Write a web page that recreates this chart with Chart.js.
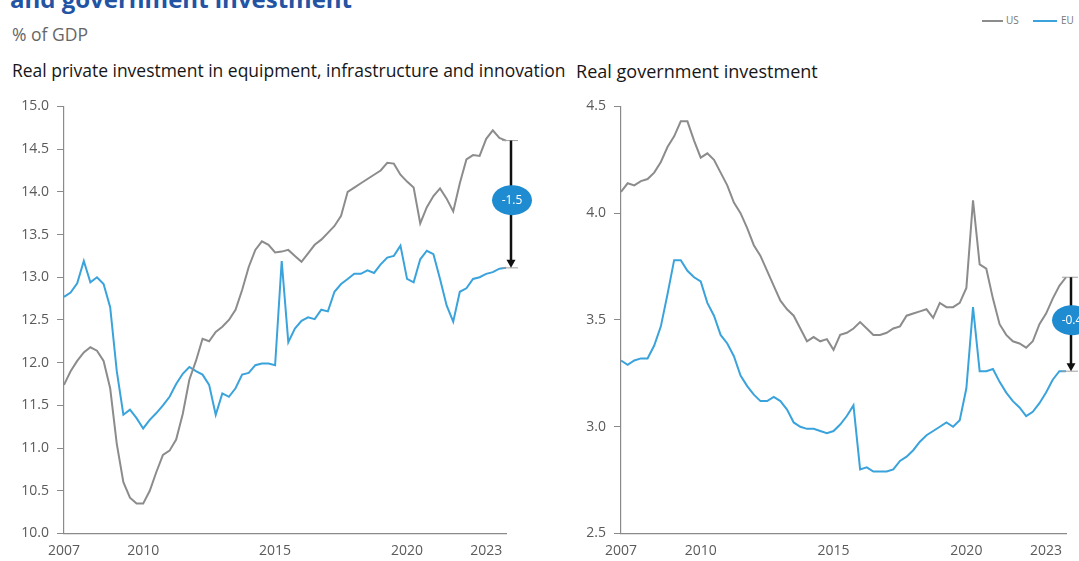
<!DOCTYPE html>
<html>
<head>
<meta charset="utf-8">
<script src="https://cdn.jsdelivr.net/npm/chart.js@4.4.1/dist/chart.umd.min.js"></script>
<style>
  body { margin: 0; width: 1079px; height: 561px; overflow: hidden; background: #fff; position: relative; font-family: "Open Sans", sans-serif; }
  .t { position: absolute; white-space: nowrap; line-height: 1; }
  #title { left: 10px; top: -13px; font-size: 22px; font-weight: 700; color: #2353a3; }
  #unit { left: 12px; top: 26px; font-size: 14px; color: #666; }
  .sub { top: 62px; font-size: 15px; color: #161616; }
  #sub1 { left: 12px; }
  #sub2 { left: 576px; }
  .leg-line { position: absolute; height: 2px; top: 20px; }
  .leg-txt { position: absolute; top: 15px; font-size: 10px; color: #777; line-height: 1; }
  .box { position: absolute; top: 90px; height: 471px; }
</style>
</head>
<body>
<div class="t" id="title" data-w="342">and government investment</div>
<div class="t" id="unit" data-w="76">% of GDP</div>
<div class="t sub" id="sub1" data-w="554">Real private investment in equipment, infrastructure and innovation</div>
<div class="t sub" id="sub2" data-w="242">Real government investment</div>

<div class="leg-line" style="left:982px;width:21px;background:#8c8c8c"></div>
<div class="leg-txt" style="left:1006px">US</div>
<div class="leg-line" style="left:1033px;width:24px;background:#3aa3dc"></div>
<div class="leg-txt" style="left:1061px">EU</div>

<div class="box" style="left:0;width:540px"><canvas id="left" width="540" height="471"></canvas></div>
<div class="box" style="left:540px;width:539px"><canvas id="right" width="539" height="471"></canvas></div>

<script>
// Quarterly data, 2007Q1 - 2023Q4
const years = [2007, 2008, 2009, 2010, 2011, 2012, 2013, 2014, 2015, 2016, 2017, 2018, 2019, 2020, 2021, 2022, 2023];
const quarters = [];
years.forEach(y => ['Q1', 'Q2', 'Q3', 'Q4'].forEach(q => quarters.push(y + q)));
const tickYears = ['2007', '2010', '2015', '2020', '2023'];

// Real private investment in equipment, infrastructure and innovation
const privateUS = [
  11.74, 11.90, 12.02, 12.12,
  12.18, 12.14, 12.02, 11.70,
  11.05, 10.60, 10.42, 10.35,
  10.35, 10.50, 10.72, 10.92,
  10.97, 11.10, 11.40, 11.80,
  12.02, 12.28, 12.25, 12.36,
  12.42, 12.50, 12.62, 12.85,
  13.12, 13.32, 13.42, 13.38,
  13.29, 13.30, 13.32, 13.25,
  13.18, 13.28, 13.38, 13.44,
  13.52, 13.60, 13.72, 14.00,
  14.05, 14.10, 14.15, 14.20,
  14.25, 14.34, 14.33, 14.20,
  14.12, 14.05, 13.63, 13.82,
  13.95, 14.04, 13.92, 13.77,
  14.10, 14.38, 14.43, 14.42,
  14.62, 14.72, 14.63, 14.60
];
const privateEU = [
  12.77, 12.82, 12.93, 13.19,
  12.94, 13.00, 12.92, 12.65,
  11.90, 11.39, 11.45, 11.35,
  11.23, 11.33, 11.41, 11.50,
  11.60, 11.75, 11.87, 11.95,
  11.90, 11.86, 11.74, 11.39,
  11.64, 11.60, 11.70, 11.86,
  11.88, 11.97, 11.99, 11.99,
  11.97, 13.19, 12.24, 12.40,
  12.49, 12.53, 12.51, 12.62,
  12.60, 12.83, 12.92, 12.98,
  13.04, 13.04, 13.08, 13.05,
  13.15, 13.23, 13.25, 13.37,
  12.98, 12.94, 13.21, 13.31,
  13.27, 12.98, 12.67, 12.48,
  12.83, 12.87, 12.98, 13.00,
  13.04, 13.06, 13.10, 13.11
];

// Real government investment
const govUS = [
  4.10, 4.14, 4.13, 4.15,
  4.16, 4.19, 4.24, 4.31,
  4.36, 4.43, 4.43, 4.34,
  4.26, 4.28, 4.25, 4.19,
  4.13, 4.05, 4.00, 3.93,
  3.85, 3.80, 3.73, 3.66,
  3.59, 3.55, 3.52, 3.46,
  3.40, 3.42, 3.40, 3.41,
  3.36, 3.43, 3.44, 3.46,
  3.49, 3.46, 3.43, 3.43,
  3.44, 3.46, 3.47, 3.52,
  3.53, 3.54, 3.55, 3.51,
  3.58, 3.56, 3.56, 3.58,
  3.65, 4.06, 3.76, 3.74,
  3.60, 3.48, 3.43, 3.40,
  3.39, 3.37, 3.40, 3.48,
  3.53, 3.60, 3.66, 3.70
];
const govEU = [
  3.31, 3.29, 3.31, 3.32,
  3.32, 3.38, 3.47, 3.62,
  3.78, 3.78, 3.73, 3.70,
  3.68, 3.58, 3.52, 3.43,
  3.39, 3.33, 3.24, 3.19,
  3.15, 3.12, 3.12, 3.14,
  3.12, 3.08, 3.02, 3.00,
  2.99, 2.99, 2.98, 2.97,
  2.98, 3.01, 3.05, 3.10,
  2.80, 2.81, 2.79, 2.79,
  2.79, 2.80, 2.84, 2.86,
  2.89, 2.93, 2.96, 2.98,
  3.00, 3.02, 3.00, 3.03,
  3.18, 3.56, 3.26, 3.26,
  3.27, 3.21, 3.16, 3.12,
  3.09, 3.05, 3.07, 3.11,
  3.16, 3.22, 3.26, 3.26
];

const US_COLOR = '#8c8c8c';
const EU_COLOR = '#3aa3dc';
const AXIS_COLOR = '#8a8a8a';
const LABEL_COLOR = '#5a5a5a';

// fit text widths to the reference
document.querySelectorAll('[data-w]').forEach(el => {
  const target = +el.dataset.w;
  const fs = parseFloat(getComputedStyle(el).fontSize);
  el.style.fontSize = (fs * target / el.getBoundingClientRect().width) + 'px';
});

// arrow + bubble showing the EU-US gap at the last quarter
const gapMarker = {
  id: 'gapMarker',
  afterDatasetsDraw(chart) {
    const { ctx, scales: { x, y } } = chart;
    const us = chart.data.datasets[0].data;
    const eu = chart.data.datasets[1].data;
    const last = us.length - 1;
    const xr = x.getPixelForValue(last);
    const ax = xr + 5;
    const yTop = y.getPixelForValue(us[last]);
    const yBot = y.getPixelForValue(eu[last]);

    ctx.save();
    ctx.strokeStyle = '#a0a0a0';
    ctx.lineWidth = 1;
    ctx.beginPath();
    ctx.moveTo(xr - 4, yTop); ctx.lineTo(ax + 7, yTop);
    ctx.moveTo(xr - 4, yBot); ctx.lineTo(ax + 7, yBot);
    ctx.stroke();

    ctx.strokeStyle = '#111';
    ctx.lineWidth = 2.5;
    ctx.beginPath();
    ctx.moveTo(ax, yTop);
    ctx.lineTo(ax, yBot - 6);
    ctx.stroke();
    ctx.fillStyle = '#111';
    ctx.beginPath();
    ctx.moveTo(ax - 4.5, yBot - 8);
    ctx.lineTo(ax + 4.5, yBot - 8);
    ctx.lineTo(ax, yBot);
    ctx.closePath();
    ctx.fill();

    const yc = (yTop + yBot) / 2 - 4;
    ctx.fillStyle = '#1f8bd0';
    ctx.beginPath();
    ctx.ellipse(ax + 1, yc, 20, 15, 0, 0, Math.PI * 2);
    ctx.fill();
    ctx.fillStyle = '#fff';
    ctx.font = '12px "Open Sans"';
    ctx.textAlign = 'center';
    ctx.textBaseline = 'middle';
    ctx.fillText((eu[last] - us[last]).toFixed(1), ax + 1, yc);
    ctx.restore();
  }
};

function makeChart(id, usData, euData, yMin, yMax, area) {
  const chart = new Chart(document.getElementById(id), {
    type: 'line',
    data: {
      labels: quarters,
      datasets: [
        { label: 'US', data: usData, borderColor: US_COLOR, borderWidth: 2, pointRadius: 0, tension: 0 },
        { label: 'EU', data: euData, borderColor: EU_COLOR, borderWidth: 2, pointRadius: 0, tension: 0 }
      ]
    },
    options: {
      responsive: false,
      animation: false,
      devicePixelRatio: 1,
      layout: { padding: { left: 0, right: 0, top: 0, bottom: 0 } },
      plugins: { legend: { display: false }, tooltip: { enabled: false } },
      scales: {
        x: {
          offset: false,
          grid: { display: false },
          border: { display: true, color: AXIS_COLOR, width: 1.2 },
          ticks: {
            autoSkip: false,
            maxRotation: 0,
            padding: 1,
            color: LABEL_COLOR,
            font: { family: 'Open Sans', size: 14 },
            callback: (v, i) => {
              const l = quarters[i];
              return l.endsWith('Q1') && tickYears.includes(l.slice(0, 4)) ? l.slice(0, 4) : null;
            }
          }
        },
        y: {
          min: yMin,
          max: yMax,
          grid: { drawOnChartArea: false, drawTicks: true, tickLength: 7, color: AXIS_COLOR },
          border: { display: true, color: AXIS_COLOR, width: 1.2 },
          ticks: {
            stepSize: 0.5,
            padding: 8,
            color: LABEL_COLOR,
            font: { family: 'Open Sans', size: 14 },
            callback: v => v.toFixed(1)
          }
        }
      }
    },
    plugins: [gapMarker]
  });

  // nudge the padding so the plot area lands where it sits in the reference
  for (let k = 0; k < 3; k++) {
    const a = chart.chartArea;
    const p = chart.options.layout.padding;
    p.left += area.left - a.left;
    p.top += area.top - a.top;
    p.right += a.right - area.right;
    p.bottom += a.bottom - area.bottom;
    chart.update('none');
  }
  return chart;
}

makeChart('left', privateUS, privateEU, 10, 15, { left: 64, right: 506, top: 11.5, bottom: 443.5 });
makeChart('right', govUS, govEU, 2.5, 4.5, { left: 81, right: 526, top: 11.5, bottom: 443.5 });
</script>
</body>
</html>
